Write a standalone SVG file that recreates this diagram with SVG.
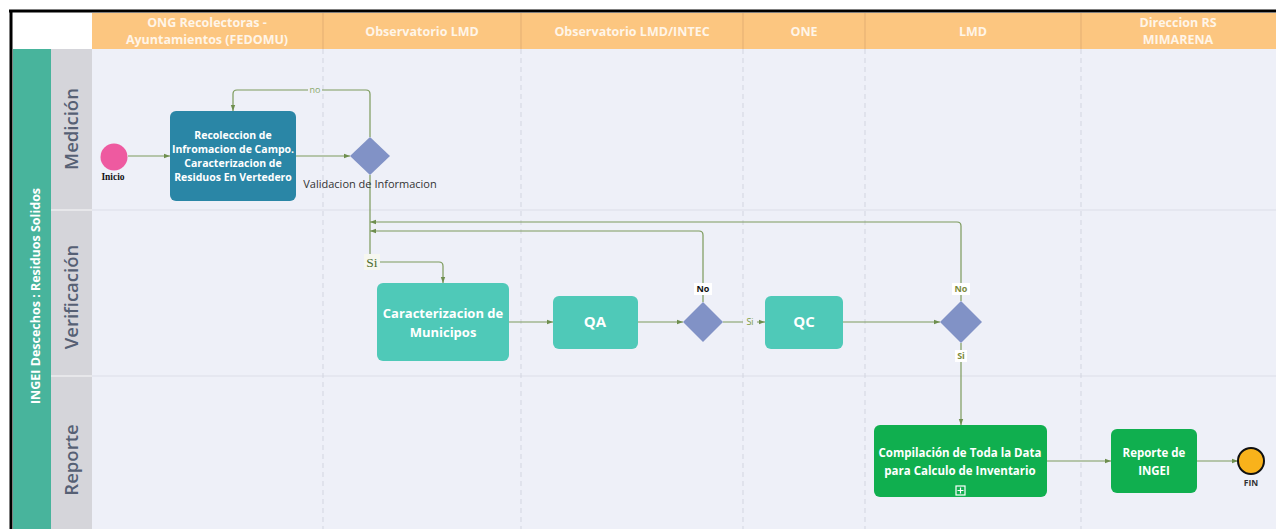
<svg xmlns="http://www.w3.org/2000/svg" width="1276" height="529" viewBox="0 0 1276 529">
<style>
.hdr{font-family:"Open Sans","Liberation Sans",sans-serif;font-weight:700;font-size:12.5px;fill:#FFF5E8;text-anchor:middle}
.lane{font-family:"Open Sans","Liberation Sans",sans-serif;font-weight:600;font-size:18.5px;fill:#566074;text-anchor:middle}
.pool{font-family:"Open Sans","Liberation Sans",sans-serif;font-weight:700;font-size:12.5px;fill:#FFFFFF;text-anchor:middle}
.btxt{font-family:"Open Sans","Liberation Sans",sans-serif;font-weight:700;fill:#FFFFFF;text-anchor:middle}
.conn{fill:none;stroke:#7C9A5C;stroke-width:1.2}
.lbl{font-family:"Open Sans","Liberation Sans",sans-serif;font-size:9px;text-anchor:middle}
.vdash{stroke:#D2D5E0;stroke-width:1;stroke-dasharray:5 4}
</style>
<defs>
<marker id="arr" viewBox="0 0 6 6" refX="6" refY="3" markerWidth="6" markerHeight="6" orient="auto" markerUnits="userSpaceOnUse">
<path d="M0,0.8 L6,3 L0,5.2 Z" fill="#6E8E4E"/>
</marker>
</defs>
<rect x="0" y="0" width="1276" height="529" fill="#FFFFFF"/>
<g id="pool">
<rect x="92" y="49" width="1184" height="480" fill="#EEF0F8"/>
<rect x="13" y="49" width="38" height="480" fill="#48B49C"/>
<rect x="51" y="49" width="41" height="480" fill="#D5D5DA"/>
<line x1="51" y1="210" x2="92" y2="210" stroke="#ECECEF" stroke-width="1.5"/>
<line x1="51" y1="376" x2="92" y2="376" stroke="#ECECEF" stroke-width="1.5"/>
<line x1="92" y1="210" x2="1276" y2="210" stroke="#DCDEE8" stroke-width="1.2"/>
<line x1="92" y1="376" x2="1276" y2="376" stroke="#DCDEE8" stroke-width="1.2"/>
<line class="vdash" x1="323" y1="49" x2="323" y2="529"/>
<line class="vdash" x1="521" y1="49" x2="521" y2="529"/>
<line class="vdash" x1="743" y1="49" x2="743" y2="529"/>
<line class="vdash" x1="865" y1="49" x2="865" y2="529"/>
<line class="vdash" x1="1081" y1="49" x2="1081" y2="529"/>
<text class="pool" transform="translate(40,296) rotate(-90)">INGEI Descechos : Residuos Solidos</text>
<text class="lane" transform="translate(78,129) rotate(-90)">Medición</text>
<text class="lane" transform="translate(78,297) rotate(-90)">Verificación</text>
<text class="lane" transform="translate(78,460) rotate(-90)">Reporte</text>
</g>
<g id="header">
<rect x="92" y="13" width="1184" height="36" fill="#FCC680"/>
<g stroke="#E3AE72" stroke-width="1">
<line x1="323" y1="13" x2="323" y2="49"/>
<line x1="521" y1="13" x2="521" y2="49"/>
<line x1="743" y1="13" x2="743" y2="49"/>
<line x1="865" y1="13" x2="865" y2="49"/>
<line x1="1081" y1="13" x2="1081" y2="49"/>
</g>
<text class="hdr" x="207" y="27">ONG Recolectoras -</text>
<text class="hdr" x="207" y="44">Ayuntamientos (FEDOMU)</text>
<text class="hdr" x="422" y="36">Observatorio LMD</text>
<text class="hdr" x="632" y="36">Observatorio LMD/INTEC</text>
<text class="hdr" x="804" y="36">ONE</text>
<text class="hdr" x="973" y="36">LMD</text>
<text class="hdr" x="1178" y="27">Direccion RS</text>
<text class="hdr" x="1178" y="44">MIMARENA</text>
</g>
<g id="frame">
<line x1="9" y1="11" x2="1276" y2="11" stroke="#000" stroke-width="3"/>
<line x1="11" y1="10" x2="11" y2="529" stroke="#000" stroke-width="3"/>
</g>
<g id="connectors">
<path class="conn" d="M128,156 H170" marker-end="url(#arr)"/>
<path class="conn" d="M296,156 H350" marker-end="url(#arr)"/>
<path class="conn" d="M370,137 V94 Q370,90 366,90 H237 Q233,90 233,94 V111" marker-end="url(#arr)"/>
<path class="conn" d="M370,175 V262 H439 Q443,262 443,266 V283" marker-end="url(#arr)"/>
<path class="conn" d="M509,322 H553" marker-end="url(#arr)"/>
<path class="conn" d="M638,322 H683" marker-end="url(#arr)"/>
<path class="conn" d="M703,302 V235 Q703,231 699,231 H370" marker-end="url(#arr)"/>
<path class="conn" d="M723,322 H765" marker-end="url(#arr)"/>
<path class="conn" d="M843,322 H940" marker-end="url(#arr)"/>
<path class="conn" d="M961,301 V226 Q961,222 957,222 H370" marker-end="url(#arr)"/>
<path class="conn" d="M961,343 V425" marker-end="url(#arr)"/>
<path class="conn" d="M1047,461 H1111" marker-end="url(#arr)"/>
<path class="conn" d="M1197,461 H1238" marker-end="url(#arr)"/>
<rect x="308" y="85" width="14" height="10" fill="#EEF0F8"/>
<text class="lbl" x="315" y="93" fill="#8AA86A">no</text>
<rect x="364" y="254" width="16" height="16" fill="#F6F7F0"/>
<text x="372" y="267" font-family="Liberation Serif, serif" font-size="13.5" fill="#4E6E2E" text-anchor="middle">Si</text>
<rect x="694" y="283" width="18" height="12" fill="#FFFFFF"/>
<text class="lbl" x="703" y="292" font-weight="700" fill="#111">No</text>
<rect x="743" y="316" width="14" height="12" fill="#EEF0F8"/>
<text class="lbl" x="750" y="325" fill="#7C9A3C">Si</text>
<rect x="952" y="283" width="18" height="12" fill="#FFFFFF"/>
<text class="lbl" x="961" y="292" font-weight="700" fill="#7C8A3C">No</text>
<rect x="955" y="350" width="12" height="12" fill="#FFFFFF"/>
<text class="lbl" x="961" y="359" font-weight="700" fill="#7C8A3C">Si</text>
</g>
<g id="inicio">
<circle cx="114" cy="157" r="13.5" fill="#EE5AA0"/>
<text x="113" y="180" font-family="Liberation Serif, serif" font-weight="700" font-size="9.5" fill="#111" text-anchor="middle">Inicio</text>
</g>
<g id="recoleccion">
<rect x="170" y="111" width="126" height="90" rx="6" fill="#2A86A6"/>
<text class="btxt" font-size="10.5" x="233" y="139">Recoleccion de</text>
<text class="btxt" font-size="10.5" x="233" y="153">Infromacion de Campo.</text>
<text class="btxt" font-size="10.5" x="233" y="167">Caracterizacion de</text>
<text class="btxt" font-size="10.5" x="233" y="181">Residuos En Vertedero</text>
</g>
<g id="validacion">
<polygon points="370,137 390,156 370,175 350,156" fill="#8192C6"/>
<text x="370" y="188" font-family="Open Sans, Liberation Sans, sans-serif" font-size="11" fill="#333" text-anchor="middle">Validacion de Informacion</text>
</g>
<g id="caracterizacion">
<rect x="377" y="283" width="132" height="78" rx="6" fill="#4FC9B8"/>
<text class="btxt" font-size="13" x="443" y="318">Caracterizacion de</text>
<text class="btxt" font-size="13" x="443" y="337">Municipos</text>
</g>
<g id="qa">
<rect x="553" y="296" width="85" height="53" rx="6" fill="#4FC9B8"/>
<text class="btxt" font-size="15" x="595" y="327">QA</text>
</g>
<g id="gw-qa">
<polygon points="703,302 723,322 703,342 683,322" fill="#8192C6"/>
</g>
<g id="qc">
<rect x="765" y="296" width="78" height="53" rx="6" fill="#4FC9B8"/>
<text class="btxt" font-size="15" x="804" y="327">QC</text>
</g>
<g id="gw-qc">
<polygon points="961,301 982,322 961,343 940,322" fill="#8192C6"/>
</g>
<g id="compilacion">
<rect x="874" y="425" width="173" height="72" rx="6" fill="#10AF4F"/>
<text class="btxt" font-size="11.5" x="960" y="457">Compilación de Toda la Data</text>
<text class="btxt" font-size="11.5" x="960" y="475">para Calculo de Inventario</text>
<rect x="956" y="486" width="9" height="9" fill="none" stroke="#FFFFFF" stroke-width="1.2"/>
<path d="M960.5,487.5 V493.5 M957.5,490.5 H963.5" stroke="#FFFFFF" stroke-width="1.2"/>
</g>
<g id="reporte">
<rect x="1111" y="429" width="86" height="64" rx="6" fill="#10AF4F"/>
<text class="btxt" font-size="11.5" x="1154" y="457">Reporte de</text>
<text class="btxt" font-size="11.5" x="1154" y="475">INGEI</text>
</g>
<g id="fin">
<circle cx="1251" cy="461" r="13" fill="#F9B21B" stroke="#111" stroke-width="2"/>
<text x="1251" y="486" font-family="Open Sans, Liberation Sans, sans-serif" font-weight="700" font-size="8.5" fill="#333" text-anchor="middle">FIN</text>
</g>
</svg>
